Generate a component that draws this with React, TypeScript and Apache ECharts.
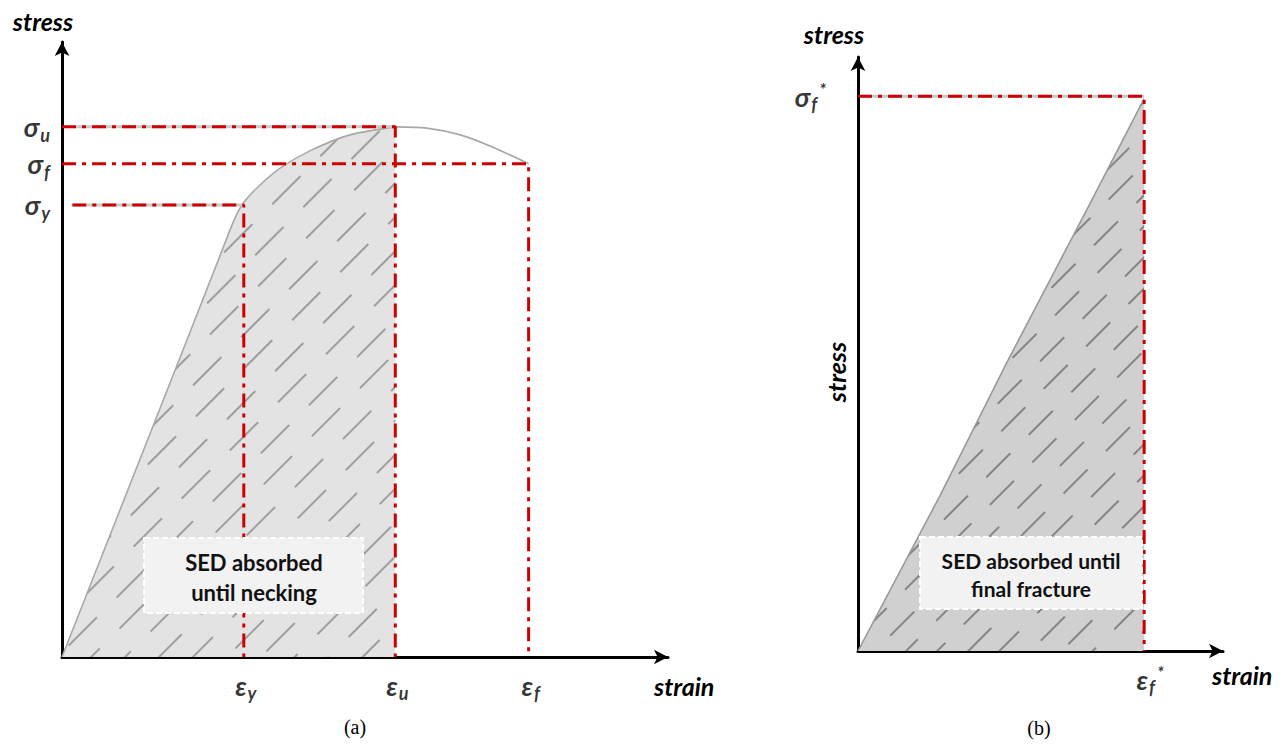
import React, { useEffect, useRef } from "react";
import * as echarts from "echarts";

// ---------- data (a) ----------
const strainMarksA = [3.0, 5.5, 7.7]; // ε_y, ε_u, ε_f
const strainNamesA = ["y", "u", "f"];
const stressMarksA = [8.62, 8.02, 7.35]; // σ_u, σ_f, σ_y
const stressNamesA = ["u", "f", "y"];
const curveUntilNeckingA: [number, number][] = [
  [0, 0], [1.62, 4.05], [2.61, 6.53], [2.82, 7.06], [2.97, 7.35], [3.22, 7.63],
  [3.6, 7.95], [4.09, 8.23], [4.75, 8.49], [5.5, 8.62],
];
const curveTailA: [number, number][] = [
  [5.5, 8.62], [6.02, 8.6], [6.57, 8.49], [7.11, 8.29], [7.7, 8.02],
];

// ---------- data (b) ----------
const strainMarkB = 7.84; // ε_f*
const stressMarkB = 9.34; // σ_f*
const curveB: [number, number][] = [
  [0, 0], [2.25, 2.62], [4.08, 4.86], [6.27, 7.43], [7.84, 9.3],
];

const F = 'Lato, "Open Sans", "Noto Sans", sans-serif';
const RED = "#cc0000";
const DASHDOT = [14, 6, 4, 6];

const rich = {
  m: { fontSize: 27, fontWeight: "bold", fontStyle: "italic", fontFamily: F, color: "#000", lineHeight: 30 },
  s: { fontSize: 18, fontWeight: "bold", fontStyle: "italic", fontFamily: F, color: "#000", padding: [16, 0, 0, 1] },
  p: { fontSize: 17, fontWeight: "bold", fontStyle: "italic", fontFamily: F, color: "#000", padding: [0, 0, 14, 2] },
};

function axisPair(idx: number) {
  const line = {
    show: true,
    symbol: ["none", "arrow"],
    symbolSize: [11, 14],
    lineStyle: { color: "#000", width: 3 },
  };
  const common = {
    type: "value" as const,
    min: 0,
    max: 10,
    gridIndex: idx,
    axisLine: line,
    axisTick: { show: false },
    axisLabel: { show: false },
    splitLine: { show: false },
  };
  return { x: { ...common }, y: { ...common } };
}

function redLine(points: [number, number][], xi: number) {
  return {
    type: "line",
    xAxisIndex: xi,
    yAxisIndex: xi,
    data: points,
    symbol: "none",
    silent: true,
    lineStyle: { color: RED, width: 3, type: DASHDOT, cap: "butt" },
    z: 5,
  };
}
function greyLine(points: [number, number][], xi: number) {
  return {
    type: "line",
    xAxisIndex: xi,
    yAxisIndex: xi,
    data: points,
    symbol: "none",
    silent: true,
    lineStyle: { color: "#c9c9c9", width: 3 },
    z: 4,
  };
}

export default function App() {
  const ref = useRef<HTMLDivElement>(null);
  useEffect(() => {
    if (!ref.current) return;
    const chart = echarts.init(ref.current, undefined, { renderer: "svg" });
    const a = axisPair(0);
    const b = axisPair(1);

    const [eY, eU, eF] = strainMarksA;
    const [sU, sF, sY] = stressMarksA;

    const decalA = {
      symbol: "rect",
      symbolSize: 1,
      color: "rgba(110,110,110,0.6)",
      dashArrayX: [[40, 28], [20, 28, 20, 0]],
      dashArrayY: [1.4, 22],
      rotation: -Math.PI / 4,
    };
    const decalB = {
      symbol: "rect",
      symbolSize: 1,
      color: "rgba(90,90,90,0.65)",
      dashArrayX: [[34, 26], [17, 26, 17, 0]],
      dashArrayY: [1.4, 20],
      rotation: -Math.PI / 4,
    };

    const title = `italic bold 25px ${F}`;
    const option: any = {
      animation: false,
      backgroundColor: "#fff",
      grid: [
        { left: 62, top: 42, width: 606, height: 615 },
        { left: 858, top: 57, width: 365, height: 594 },
      ],
      xAxis: [a.x, b.x],
      yAxis: [a.y, b.y],
      series: [
        {
          type: "line",
          xAxisIndex: 0,
          yAxisIndex: 0,
          data: curveUntilNeckingA,
          symbol: "none",
          smooth: 0.25,
          silent: true,
          lineStyle: { color: "#a8a8a8", width: 1.6, decal: decalA },
          itemStyle: { decal: decalA },
          areaStyle: { color: "#e3e3e3", opacity: 1, decal: decalA },
          z: 2,
        },
        {
          type: "line",
          xAxisIndex: 0,
          yAxisIndex: 0,
          data: curveTailA,
          symbol: "none",
          smooth: 0.25,
          silent: true,
          lineStyle: { color: "#a8a8a8", width: 1.6 },
          z: 2,
        },
        greyLine([[0.2, sU], [eU, sU]], 0),
        greyLine([[0.2, sY], [eY, sY]], 0),
        redLine([[0, sU], [eU, sU], [eU, 0]], 0),
        redLine([[0, sF], [eF, sF], [eF, 0]], 0),
        redLine([[0.17, sY], [eY, sY], [eY, 0]], 0),
        {
          type: "line",
          xAxisIndex: 1,
          yAxisIndex: 1,
          data: curveB,
          symbol: "none",
          smooth: false,
          silent: true,
          lineStyle: { color: "#999", width: 1.6, decal: decalB },
          itemStyle: { decal: decalB },
          areaStyle: { color: "#d0d0d0", opacity: 1, decal: decalB },
          z: 2,
        },
        greyLine([[0.1, stressMarkB], [strainMarkB, stressMarkB]], 1),
        redLine([[0, stressMarkB], [strainMarkB, stressMarkB], [strainMarkB, 0]], 1),
        // strain labels (a)
        {
          type: "scatter",
          xAxisIndex: 0,
          yAxisIndex: 0,
          symbolSize: 0,
          silent: true,
          data: strainMarksA.map((x, i) => ({
            value: [x, 0],
            label: { formatter: `{m|ε}{s|${strainNamesA[i]}}` },
          })),
          label: { show: true, position: "inside", offset: [2, 28], rich },
          z: 10,
        },
        // stress labels (a)
        {
          type: "scatter",
          xAxisIndex: 0,
          yAxisIndex: 0,
          symbolSize: 0,
          silent: true,
          data: stressMarksA.map((y, i) => ({
            value: [0, y],
            label: { formatter: `{m|σ}{s|${stressNamesA[i]}}` },
          })),
          label: { show: true, position: "left", distance: 12, rich },
          z: 10,
        },
        // labels (b)
        {
          type: "scatter",
          xAxisIndex: 1,
          yAxisIndex: 1,
          symbolSize: 0,
          silent: true,
          data: [
            { value: [strainMarkB, 0], label: { position: "inside", offset: [6, 28], formatter: "{m|ε}{s|f}{p|*}" } },
            { value: [0, stressMarkB], label: { position: "left", distance: 32, formatter: "{m|σ}{s|f}{p|*}" } },
          ],
          label: { show: true, rich },
          z: 10,
        },
      ],
      graphic: [
        { type: "text", x: 43, y: 21, z: 50, style: { text: "stress", font: title, fill: "#000", align: "center", verticalAlign: "middle" } },
        { type: "text", x: 654, y: 686, z: 50, style: { text: "strain", font: title, fill: "#000", align: "left", verticalAlign: "middle" } },
        { type: "text", x: 355, y: 727, z: 50, style: { text: "(a)", font: `20px "Liberation Serif", "Times New Roman", serif`, fill: "#000", align: "center", verticalAlign: "middle" } },
        { type: "text", x: 834, y: 34, z: 50, style: { text: "stress", font: title, fill: "#000", align: "center", verticalAlign: "middle" } },
        { type: "text", x: 836, y: 372, rotation: Math.PI / 2, z: 50, style: { text: "stress", font: title, fill: "#000", align: "center", verticalAlign: "middle" } },
        { type: "text", x: 1212, y: 675, z: 50, style: { text: "strain", font: title, fill: "#000", align: "left", verticalAlign: "middle" } },
        { type: "text", x: 1039, y: 728, z: 50, style: { text: "(b)", font: `20px "Liberation Serif", "Times New Roman", serif`, fill: "#000", align: "center", verticalAlign: "middle" } },
        { type: "rect", z: 60, shape: { x: 144, y: 538, width: 219, height: 75 }, style: { fill: "#f2f2f2", stroke: "#ffffff", lineWidth: 2, lineDash: [6, 3] } },
        { type: "text", x: 254, y: 577, z: 61, style: { text: "SED absorbed\nuntil necking", font: `bold 22px ${F}`, lineHeight: 30, fill: "#111", align: "center", verticalAlign: "middle" } },
        { type: "rect", z: 60, shape: { x: 920, y: 537, width: 222, height: 72 }, style: { fill: "#f2f2f2", stroke: "#ffffff", lineWidth: 2, lineDash: [6, 3] } },
        { type: "text", x: 1031, y: 574, z: 61, style: { text: "SED absorbed until\nfinal fracture", font: `bold 21px ${F}`, lineHeight: 28, fill: "#111", align: "center", verticalAlign: "middle" } },
      ],
    };
    chart.setOption(option);
    return () => chart.dispose();
  }, []);
  return (
    <div
      ref={ref}
      style={{ position: "fixed", left: 0, top: 0, width: 1286, height: 744, background: "#fff" }}
    />
  );
}
